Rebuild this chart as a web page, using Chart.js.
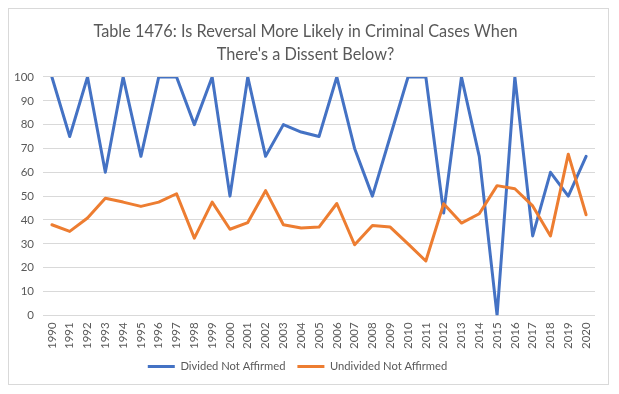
<!DOCTYPE html>
<html>
<head>
<meta charset="utf-8">
<script src="https://cdn.jsdelivr.net/npm/chart.js@4/dist/chart.umd.min.js"></script>
<style>
  html, body { margin: 0; padding: 0; background: #ffffff; }
  #wrap { position: relative; width: 619px; height: 394px; }
  #frame { position: absolute; left: 8px; top: 8px; border: 1px solid #d9d9d9; box-sizing: border-box; width: 601px; height: 377px; }
  canvas { position: absolute; left: 0; top: 0; }
</style>
</head>
<body>
<div id="wrap">
  <div id="frame"></div>
  <canvas id="c" width="619" height="394"></canvas>
</div>
<script>
const years = ['1990','1991','1992','1993','1994','1995','1996','1997','1998','1999','2000','2001','2002','2003','2004','2005','2006','2007','2008','2009','2010','2011','2012','2013','2014','2015','2016','2017','2018','2019','2020'];
const dividedNotAffirmed = [100, 75, 100, 60, 100, 66.7, 100, 100, 80, 100, 50, 100, 66.7, 80, 76.9, 75, 100, 70, 50, 75, 100, 100, 42.9, 100, 66.7, 0, 100, 33.3, 60, 50, 66.7];
const undividedNotAffirmed = [38, 35.2, 40.8, 49.1, 47.5, 45.7, 47.5, 51, 32.4, 47.5, 36.1, 38.9, 52.3, 38, 36.6, 37, 46.9, 29.6, 37.7, 37, 30, 22.8, 46.8, 38.7, 42.6, 54.4, 53.1, 45.9, 33.3, 67.6, 42.2];
const seriesNames = ['Divided Not Affirmed', 'Undivided Not Affirmed'];
const seriesColors = ['#4472C4', '#ED7D31'];
const titleLines = ['Table 1476: Is Reversal More Likely in Criminal Cases When', "There's a Dissent Below?"];
const yMin = 0, yMax = 100, yStep = 10;

const FONT = 'Lato, Carlito, Calibri, sans-serif';
const GREY = '#595959';
const GRID = '#d9d9d9';

const shiftTitle = {
  id: 'shiftTitle',
  afterLayout(chart) {
    const t = chart.titleBlock;
    if (t) { t.left += 8; t.right += 8; }
  }
};

new Chart(document.getElementById('c'), {
  type: 'line',
  data: {
    labels: years,
    datasets: [
      { label: seriesNames[0], data: dividedNotAffirmed, borderColor: seriesColors[0], backgroundColor: seriesColors[0], order: 2 },
      { label: seriesNames[1], data: undividedNotAffirmed, borderColor: seriesColors[1], backgroundColor: seriesColors[1], order: 1 }
    ]
  },
  plugins: [shiftTitle],
  options: {
    responsive: false,
    animation: false,
    events: [],
    elements: {
      line: { borderWidth: 3, tension: 0, borderJoinStyle: 'round', borderCapStyle: 'round' },
      point: { radius: 0 }
    },
    layout: { padding: { left: 0, right: 24, top: 0, bottom: 12 } },
    plugins: {
      title: {
        display: true,
        text: titleLines,
        color: GREY,
        font: { family: FONT, size: 16.3, weight: 'normal', lineHeight: 1.41 },
        padding: { top: 20.5, bottom: 10.5 }
      },
      legend: {
        display: true,
        position: 'bottom',
        labels: {
          boxWidth: 27,
          boxHeight: 3,
          padding: 12,
          color: GREY,
          font: { family: FONT, size: 11.2 },
          generateLabels: function(chart) {
            return seriesNames.map(function(n, i) {
              return { text: n, fillStyle: seriesColors[i], strokeStyle: seriesColors[i], lineWidth: 0, datasetIndex: i, hidden: false, fontColor: GREY };
            });
          }
        }
      },
      tooltip: { enabled: false }
    },
    scales: {
      x: {
        offset: true,
        grid: { display: false, drawTicks: false, offset: true },
        border: { display: false },
        ticks: { color: GREY, font: { family: FONT, size: 11.5 }, minRotation: 90, maxRotation: 90, padding: 7, autoSkip: false },
        afterFit: function(s) { s.height = 33.5; }
      },
      y: {
        min: yMin, max: yMax,
        grid: { color: GRID, lineWidth: 1, drawTicks: false },
        border: { display: false },
        ticks: { stepSize: yStep, color: GREY, font: { family: FONT, size: 11.5 }, padding: 9 },
        afterFit: function(s) { s.width = 43; }
      }
    }
  }
});
</script>
</body>
</html>
